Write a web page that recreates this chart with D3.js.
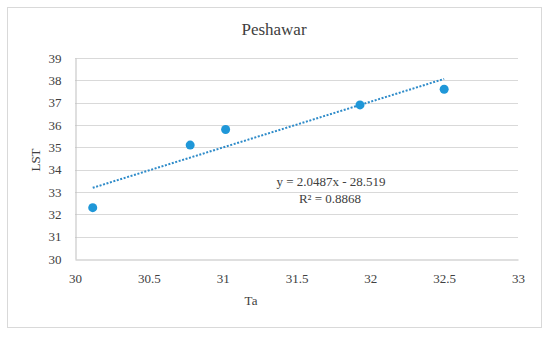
<!DOCTYPE html>
<html><head>
<meta charset="utf-8">
<script src="https://d3js.org/d3.v7.min.js"></script>
<style>
body{ margin:0; background:#fff; }
text{ font-family: "Liberation Serif", "Times New Roman", serif; fill:#404040; }
</style>
</head>
<body>
<div id="chart"></div>
<script>
// données
const ta  = [30.12, 30.78, 31.02, 31.93, 32.5];
const lst = [32.3, 35.1, 35.8, 36.9, 37.6];
const xTicks = [30, 30.5, 31, 31.5, 32, 32.5, 33];
const yTicks = [30, 31, 32, 33, 34, 35, 36, 37, 38, 39];
const pente = 2.0487, ordonnee = -28.519, r2 = 0.8868;

const W = 550, H = 337;
const margin = {top: 58, right: 32, bottom: 78, left: 75};

let svg = d3.select("#chart").append("svg")
	.attr("width", W).attr("height", H);

// cadre
svg.append("rect")
	.attr("x", 7.5).attr("y", 7.5)
	.attr("width", 534).attr("height", 320)
	.attr("fill", "#fff").attr("stroke", "#d9d9d9");

const Ech_x = d3.scaleLinear().domain([30, 33]).range([margin.left, W - margin.right]);
const Ech_y = d3.scaleLinear().domain([30, 39]).range([H - margin.bottom, margin.top]);

// grille horizontale
svg.append("g")
	.selectAll("line")
	.data(yTicks.filter(d => d > 30))
	.enter().append("line")
	.attr("x1", Ech_x(30)).attr("x2", Ech_x(33))
	.attr("y1", d => Math.round(Ech_y(d)) + 0.5)
	.attr("y2", d => Math.round(Ech_y(d)) + 0.5)
	.attr("stroke", "#d9d9d9");

// axes
let axeX = svg.append("g")
	.attr("transform", "translate(0," + (Math.round(Ech_y(30)) + 0.5) + ")")
	.call(d3.axisBottom(Ech_x).tickValues(xTicks).tickSize(0).tickPadding(14).tickFormat(d3.format("")));
axeX.select(".domain").attr("stroke", "#bfbfbf");

let axeY = svg.append("g")
	.attr("transform", "translate(" + (Math.round(Ech_x(30)) + 0.5) + ",0)")
	.call(d3.axisLeft(Ech_y).tickValues(yTicks).tickSize(0).tickPadding(14).tickFormat(d3.format("")));
axeY.select(".domain").attr("stroke", "#bfbfbf");

svg.selectAll(".tick text")
	.style("font-family", "Liberation Serif, serif")
	.style("font-size", "13px")
	.attr("fill", "#404040");

// courbe de tendance
const xs = d3.extent(ta);
svg.append("line")
	.attr("x1", Ech_x(xs[0])).attr("y1", Ech_y(pente * xs[0] + ordonnee))
	.attr("x2", Ech_x(xs[1])).attr("y2", Ech_y(pente * xs[1] + ordonnee))
	.attr("stroke", "#2e8bc9")
	.attr("stroke-width", 2)
	.attr("stroke-dasharray", "2,1.6");

// points
svg.append("g")
	.selectAll("circle")
	.data(ta.map((d, i) => ({x: d, y: lst[i]})))
	.enter().append("circle")
	.attr("cx", d => Ech_x(d.x))
	.attr("cy", d => Ech_y(d.y))
	.attr("r", 4.5)
	.attr("fill", "#1f97d8");

// titre et libellés
svg.append("text")
	.attr("x", 274).attr("y", 35)
	.attr("text-anchor", "middle")
	.style("font-size", "17px")
	.text("Peshawar");

svg.append("text")
	.attr("transform", "translate(40,160) rotate(-90)")
	.attr("text-anchor", "middle")
	.style("font-size", "13px")
	.text("LST");

svg.append("text")
	.attr("x", 251).attr("y", 305)
	.attr("text-anchor", "middle")
	.style("font-size", "13px")
	.text("Ta");

svg.append("text")
	.attr("x", 331).attr("y", 186)
	.attr("text-anchor", "middle")
	.style("font-size", "13px")
	.text("y = " + pente + "x - " + Math.abs(ordonnee));

svg.append("text")
	.attr("x", 330).attr("y", 203)
	.attr("text-anchor", "middle")
	.style("font-size", "13px")
	.text("R² = " + r2);
</script>
</body>
</html>
